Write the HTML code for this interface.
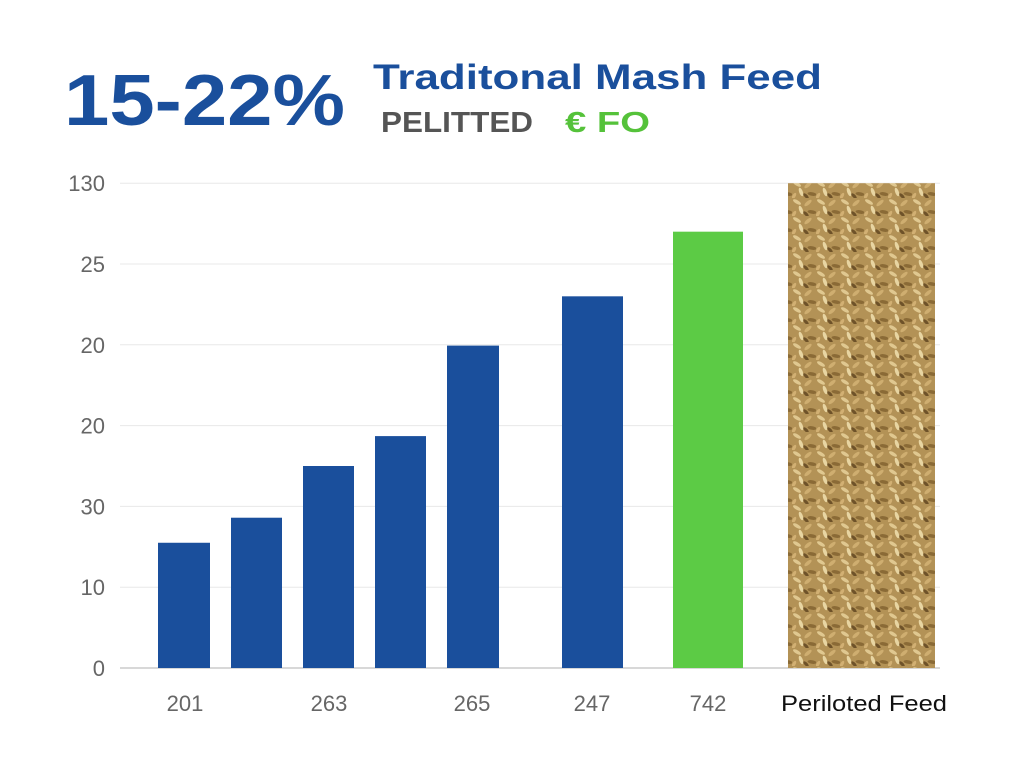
<!DOCTYPE html>
<html><head><meta charset="utf-8">
<style>
body{margin:0;background:#fff;width:1024px;height:768px;overflow:hidden;font-family:"Liberation Sans",sans-serif;}
svg{display:block}
</style></head>
<body>
<svg id="chart" width="1024" height="768" viewBox="0 0 1024 768">
<defs>
<pattern id="grain" width="24" height="18" patternUnits="userSpaceOnUse">
<rect width="24" height="18" fill="#b39256"/>
<ellipse cx="5" cy="4" rx="4.5" ry="1.8" fill="#e0c890" transform="rotate(30 5 4)"/>
<ellipse cx="16" cy="5" rx="4.5" ry="1.8" fill="#cfae70" transform="rotate(-40 16 5)"/>
<ellipse cx="9" cy="12" rx="4.5" ry="1.8" fill="#e8d5a2" transform="rotate(70 9 12)"/>
<ellipse cx="20" cy="14" rx="4.5" ry="1.8" fill="#8a6a36" transform="rotate(10 20 14)"/>
<ellipse cx="2" cy="16" rx="3.5" ry="1.6" fill="#d2b073" transform="rotate(-60 2 16)"/>
<ellipse cx="14" cy="16" rx="3.5" ry="1.6" fill="#6e5229" transform="rotate(45 14 16)"/>
</pattern>
</defs>
<text x="64" y="125" font-size="72" font-weight="bold" fill="#1a4f9c" textLength="281" lengthAdjust="spacingAndGlyphs">15-22%</text>
<text x="373" y="89" font-size="35" font-weight="bold" fill="#1a4f9c" textLength="449" lengthAdjust="spacingAndGlyphs">Traditonal Mash Feed</text>
<text x="381" y="132" font-size="29" font-weight="bold" fill="#555" textLength="152" lengthAdjust="spacingAndGlyphs">PELITTED</text>
<text x="565" y="132" font-size="29" font-weight="bold" fill="#55c23a" textLength="85" lengthAdjust="spacingAndGlyphs">€ FO</text>
<g id="grid"></g><g id="bars"></g><g id="xl"></g>
</svg>
<script>
const tickLabels=["0","10","30","20","20","25","130"];
const categories=["201","263","265","247","742","Periloted Feed"];
const values=[1.55,1.86,2.5,2.87,3.99,4.6,5.4,6.0];
const NS="http://www.w3.org/2000/svg";
const y0=668,step=80.8;
function y(v){return y0-v*step;}
const barX=[[158,52],[231,51],[303,51],[375,51],[447,52],[562,61],[673,70],[788,147]];
const labelX=[185,329,472,592,708,864];
const svg=document.getElementById('chart');
const grid=document.getElementById('grid');
tickLabels.forEach((t,i)=>{
 const l=document.createElementNS(NS,'line');
 
 
 l.setAttribute('x1',120);l.setAttribute('x2',940);l.setAttribute('y1',y(i));l.setAttribute('y2',y(i));
 l.setAttribute('stroke',i==0?'#ccc':'#e8e8e8');l.setAttribute('stroke-width',i==0?1.5:1);
 grid.appendChild(l);
 const tx=document.createElementNS(NS,'text');
 
 
 tx.setAttribute('x',105);tx.setAttribute('y',y(i)+8);tx.setAttribute('text-anchor','end');
 tx.setAttribute('font-size',22);tx.setAttribute('fill','#666');tx.textContent=t;
 grid.appendChild(tx);
});
const bars=document.getElementById('bars');
values.forEach((v,i)=>{
 const r=document.createElementNS(NS,'rect');
 
 
 r.setAttribute('x',barX[i][0]);r.setAttribute('width',barX[i][1]);
 r.setAttribute('y',y(v));r.setAttribute('height',y0-y(v));
 r.setAttribute('fill',i<6?'#1a4f9c':(i==6?'#5ccb45':'url(#grain)'));
 bars.appendChild(r);
});
const xl=document.getElementById('xl');
categories.forEach((c,i)=>{
 const t=document.createElementNS(NS,'text');
 
 
 t.setAttribute('x',labelX[i]);t.setAttribute('y',711);t.setAttribute('text-anchor','middle');
 const last=i==categories.length-1;
 t.setAttribute('font-size',22);t.setAttribute('fill',last?'#111':'#666');
 if(last){t.setAttribute('textLength',166);t.setAttribute('lengthAdjust','spacingAndGlyphs');}
 t.textContent=c;xl.appendChild(t);
});
</script>
</body></html>
